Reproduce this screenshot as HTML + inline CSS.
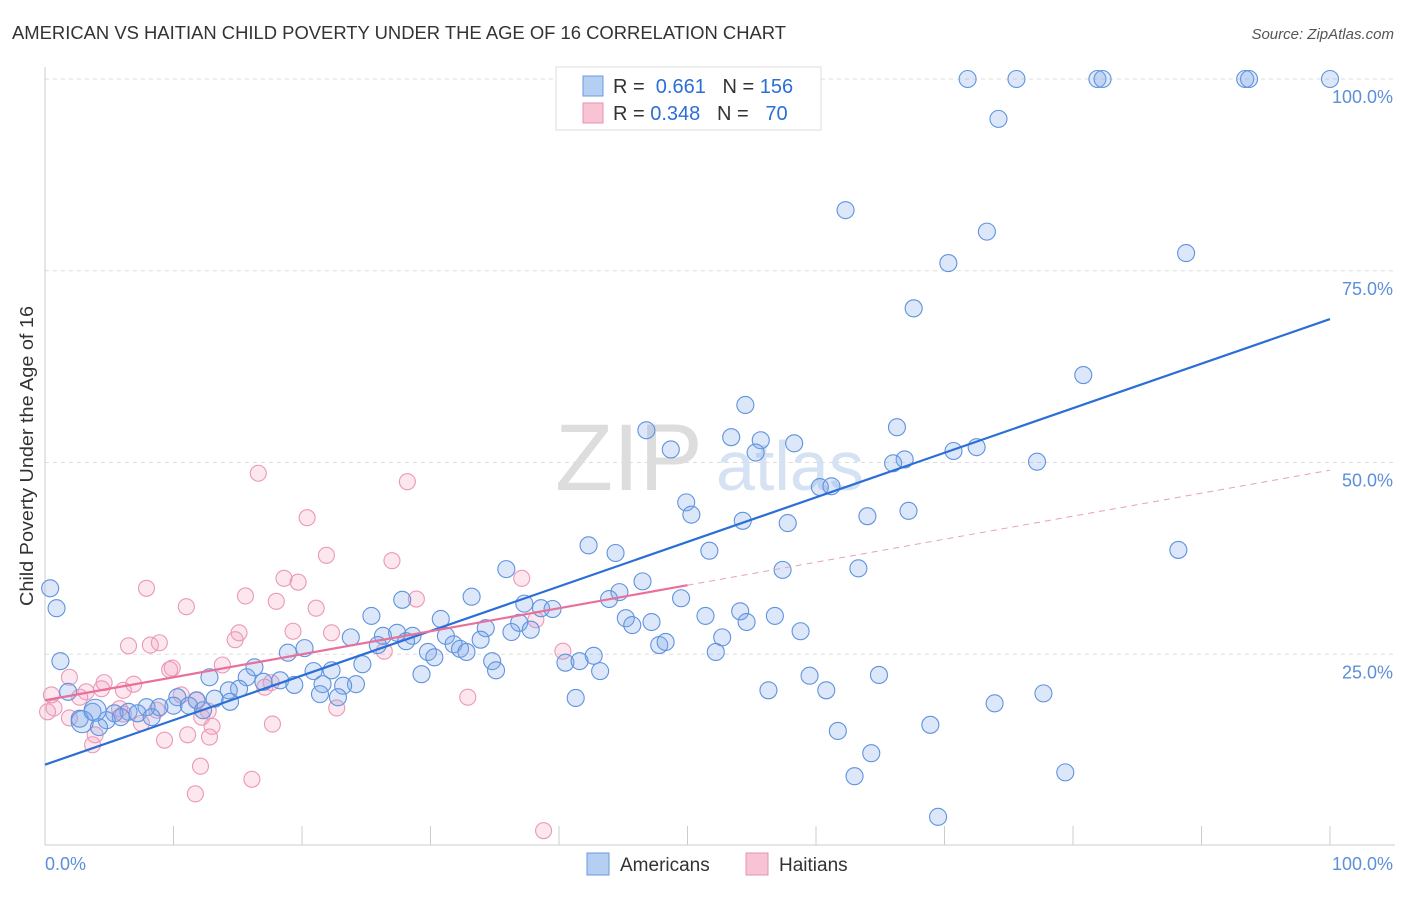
<!DOCTYPE html>
<html><head><meta charset="utf-8"><style>
body{margin:0;background:#fff;font-family:"Liberation Sans",sans-serif;}
svg text{font-family:"Liberation Sans",sans-serif;}
</style></head><body>
<svg id="chart" width="1406" height="892">
<text x="12" y="39" font-size="18" fill="#333" textLength="774" lengthAdjust="spacingAndGlyphs">AMERICAN VS HAITIAN CHILD POVERTY UNDER THE AGE OF 16 CORRELATION CHART</text>
<text x="1394" y="39" font-size="15" fill="#555" text-anchor="end" font-style="italic">Source: ZipAtlas.com</text>
<text x="555" y="490" font-size="95" fill="#ddd" font-family="Liberation Serif,serif">ZIP</text>
<text x="716" y="490" font-size="70" fill="#d4e2f4">atlas</text>
<g id="grid"></g>
<g id="marks"></g>
<text x="33" y="456" font-size="18" fill="#333" text-anchor="middle" textLength="300" lengthAdjust="spacingAndGlyphs" transform="rotate(-90 33 456)">Child Poverty Under the Age of 16</text>
<g>
<rect x="556" y="67" width="265" height="63" fill="#fff" stroke="#ddd"/>
<rect x="583" y="76" width="20" height="20" fill="#b5cff2" stroke="#6a9ae0"/>
<rect x="583" y="103" width="20" height="20" fill="#f8c4d4" stroke="#e890b0"/>
<text x="613" y="93" font-size="20" fill="#333">R = <tspan fill="#2b6fd6">&#160;0.661</tspan>&#160;&#160;&#160;N = <tspan fill="#2b6fd6">156</tspan></text>
<text x="613" y="120" font-size="20" fill="#333">R = <tspan fill="#2b6fd6">0.348</tspan>&#160;&#160;&#160;N = <tspan fill="#2b6fd6">&#160;&#160;70</tspan></text>
</g>
<g>
<rect x="587" y="853" width="22" height="22" fill="#b5cff2" stroke="#6a9ae0"/>
<text x="620" y="871" font-size="19" fill="#333">Americans</text>
<rect x="746" y="853" width="22" height="22" fill="#f8c4d4" stroke="#e890b0"/>
<text x="779" y="871" font-size="19" fill="#333">Haitians</text>
</g>
</svg>
<script>
const xTicks=[0,10,20,30,40,50,60,70,80,90,100];
const yTicks=[25,50,75,100];
const yTickLabels=["25.0%","50.0%","75.0%","100.0%"];
const amerX=[71.8,75.6,81.9,82.3,93.4,93.7,100,59.2,74.2,62.3,73.3,88.8,70.3,67.6,80.8,54.5,46.8,66.3,53.4,55.7,58.3,48.7,55.3,70.7,72.5,66.9,66.0,77.2,60.3,61.2,49.9,50.3,64,67.2,54.3,57.8,42.3,51.7,44.4,88.2,35.9,57.4,63.3,46.5,33.2,44.7,43.9,49.5,27.8,37.3,38.6,39.5,25.4,51.4,54.1,56.8,45.2,47.2,54.6,30.8,36.9,45.7,34.3,37.8,36.3,58.8,23.8,26.3,27.4,28.6,31.2,52.7,28.1,25.9,31.8,32.3,32.8,33.9,47.8,48.3,20.2,18.9,29.8,30.3,52.2,42.7,34.8,40.5,41.6,24.7,16.3,20.9,22.3,35.1,43.2,29.3,59.5,64.9,1.2,12.8,15.7,18.3,17.0,19.4,21.6,24.2,23.2,15.1,14.3,56.3,60.8,77.7,21.4,22.8,41.3,10.3,11.8,13.2,1.8,14.4,73.9,10,7.9,8.9,11.2,6.5,12.3,3.7,5.4,7.2,8.3,5.9,4.8,2.7,68.9,4.2,61.7,64.3,79.4,63,69.5,0.4,0.9,3.9,2.9];
const amerY=[100,100,100,100,100,100,100,95.2,94.8,82.9,80.1,77.3,76.0,70.1,61.4,57.5,54.2,54.6,53.3,52.9,52.5,51.7,51.3,51.5,52.0,50.4,49.9,50.1,46.8,46.9,44.8,43.2,43.0,43.7,42.4,42.1,39.2,38.5,38.2,38.6,36.1,36.0,36.2,34.5,32.5,33.1,32.2,32.3,32.1,31.6,31.0,30.9,30.0,30.0,30.6,30.0,29.7,29.2,29.2,29.6,29.1,28.8,28.4,28.2,27.9,28.0,27.2,27.4,27.8,27.4,27.4,27.2,26.7,26.2,26.3,25.7,25.3,26.9,26.2,26.6,25.8,25.2,25.3,24.6,25.3,24.8,24.1,23.9,24.1,23.7,23.3,22.8,22.9,22.9,22.8,22.4,22.2,22.3,24.1,22.0,22.0,21.6,21.4,21.0,21.1,21.1,20.9,20.5,20.3,20.3,20.3,19.9,19.8,19.4,19.3,19.4,19.0,19.2,20.1,18.8,18.6,18.3,18.1,18.1,18.3,17.5,17.7,17.5,17.3,17.3,16.8,16.8,16.4,16.6,15.8,15.5,15.0,12.1,9.6,9.1,3.8,33.6,31.0,17.7,16.2];
const haitX=[16.6,28.2,20.4,21.9,27.0,18.6,19.7,37.1,7.9,15.6,18.0,28.9,11.0,21.1,38.2,22.3,15.1,19.3,6.5,8.2,8.9,14.8,26.4,40.3,9.9,9.7,13.8,1.9,4.6,6.9,4.4,3.2,6.1,17.6,17.1,32.9,0.5,2.7,10.6,11.8,0.7,5.8,8.7,12.7,22.7,0.2,6.1,1.9,12.2,7.5,13,17.7,11.1,12.8,3.9,9.3,3.7,12.1,16.1,11.7,38.8];
const haitY=[48.6,47.5,42.8,37.9,37.2,34.9,34.4,34.9,33.6,32.6,31.9,32.2,31.2,31.0,29.5,27.8,27.8,28.0,26.1,26.2,26.5,26.9,25.4,25.4,23.2,23.0,23.6,22.0,21.3,21.1,20.5,20.1,20.3,21.3,20.7,19.4,19.7,19.4,19.7,19.0,18.0,17.9,17.7,17.6,18.0,17.5,17.2,16.7,16.8,16.0,15.6,15.9,14.5,14.2,14.5,13.8,13.2,10.4,8.7,6.8,2.0];
const amerFit=[10.6,68.7];
const haitFit=[19.0,49.0];
const haitSolidEnd=50;

const NS="http://www.w3.org/2000/svg";
const X=v=>45+v*12.85;
const Y=v=>846-v*7.67;
function mk(tag,attrs,parent){const e=document.createElementNS(NS,tag);for(const k in attrs)e.setAttribute(k,attrs[k]);parent.appendChild(e);return e;}
const grid=document.getElementById('grid'),marks=document.getElementById('marks');
yTicks.forEach((t,i)=>{
 const l=mk('line',{x1:45,x2:1395,y1:Y(t),y2:Y(t),stroke:'#ddd','stroke-dasharray':'4,4'},grid);
 
 
 const tx=mk('text',{x:1393,y:Y(t)+24,'font-size':18,fill:'#5b8fd8','text-anchor':'end'},grid);
 tx.textContent=yTickLabels[i];
 
 
});
const ax=mk('line',{x1:45,x2:1395,y1:845,y2:845,stroke:'#ccc'},grid);


const ay=mk('line',{x1:45,x2:45,y1:67,y2:845,stroke:'#ccc'},grid);


xTicks.forEach(t=>{
 const l=mk('line',{x1:X(t),x2:X(t),y1:826,y2:845,stroke:'#ccc'},grid);
 
 
});
[["0.0%",45,'start'],["100.0%",1393,'end']].forEach(([s,x,a])=>{
 const t=mk('text',{x:x,y:870,'font-size':18,fill:'#5b8fd8','text-anchor':a},grid);
 t.textContent=s;
 
 
});
haitX.forEach((v,i)=>{
 const c=mk('circle',{cx:X(v),cy:Y(haitY[i]),r:8,fill:'rgba(244,160,190,0.25)',stroke:'#eb98b6','stroke-width':1.1},marks);
 
 
});
amerX.forEach((v,i)=>{
 const c=mk('circle',{cx:X(v),cy:Y(amerY[i]),r:(i>=amerX.length-2?11:8.5),fill:'rgba(130,170,232,0.28)',stroke:'#5f93de','stroke-width':1.1},marks);
 
 
});
const hy=x=>haitFit[0]+(haitFit[1]-haitFit[0])*x/100;
const l1=mk('line',{x1:X(0),y1:Y(amerFit[0]),x2:X(100),y2:Y(amerFit[1]),stroke:'#2b6fd6','stroke-width':2.2},marks);


const l2=mk('line',{x1:X(0),y1:Y(hy(0)),x2:X(haitSolidEnd),y2:Y(hy(haitSolidEnd)),stroke:'#e8709a','stroke-width':2.2},marks);


const l3=mk('line',{x1:X(haitSolidEnd),y1:Y(hy(haitSolidEnd)),x2:X(100),y2:Y(hy(100)),stroke:'#e8a0b8','stroke-width':1,'stroke-dasharray':'6,5'},marks);


</script>
</body></html>
